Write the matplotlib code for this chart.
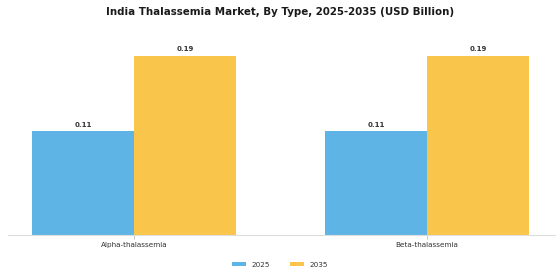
import numpy as np
import matplotlib.pyplot as plt

# Dane
categories = ['Alpha-thalassemia', 'Beta-thalassemia']
years = ['2025', '2035']
values_2025 = [0.11, 0.11]
values_2035 = [0.19, 0.19]
colors = ['#5DB4E5', '#F9C54B']

fig = plt.figure(figsize=(5.6, 2.8), dpi=100)
ax = fig.add_axes([8 / 560, 45 / 280, 547 / 560, 190 / 280])

x = np.arange(len(categories))
w = 0.348
b1 = ax.bar(x - w / 2, values_2025, w, color=colors[0], label=years[0])
b2 = ax.bar(x + w / 2, values_2035, w, color=colors[1], label=years[1])

# Etykiety wartości nad słupkami
for bars in (b1, b2):
    for bar in bars:
        ax.text(bar.get_x() + bar.get_width() / 2, bar.get_height() + 0.004,
                f'{bar.get_height():.2f}', ha='center', va='bottom',
                fontsize=5, fontweight='bold', color='#333333')

ax.set_xlim(-0.43, 1.437)
ax.set_ylim(0, 0.19 * 190 / 179)
ax.set_xticks(x)
ax.set_xticklabels(categories, fontsize=5.2, color='#333333')
ax.tick_params(axis='x', length=3, width=0.6, color='#bbbbbb', pad=2)
ax.set_yticks([])
for s in ['top', 'right', 'left']:
    ax.spines[s].set_visible(False)
ax.spines['bottom'].set_color('#dddddd')
ax.spines['bottom'].set_linewidth(0.8)

fig.suptitle('India Thalassemia Market, By Type, 2025-2035 (USD Billion)',
             fontsize=7.4, fontweight='bold', y=0.975, color='#1a1a1a')

fig.legend(handles=[b1, b2], labels=years, loc='center', bbox_to_anchor=(0.5, 15 / 280),
           ncol=2, frameon=False, fontsize=5.2, handlelength=2.0, handleheight=0.5,
           columnspacing=2.7, labelcolor='#333333')

plt.savefig('out.png', dpi=100)
